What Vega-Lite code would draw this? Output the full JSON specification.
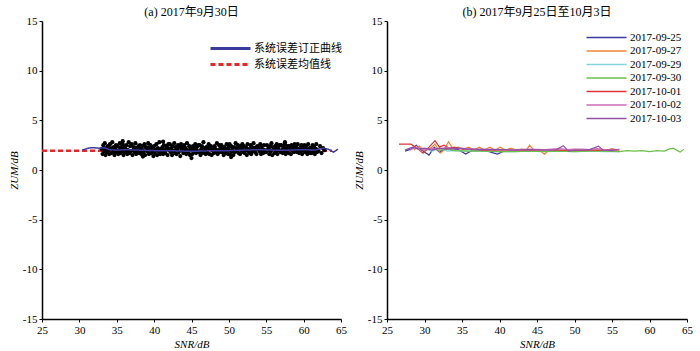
{
  "$schema": "https://vega.github.io/schema/vega-lite/v6.json",
  "padding": {"left": 8, "top": 6, "right": 2, "bottom": 2},
  "spacing": 6,
  "config": {
    "font": "Liberation Serif",
    "view": {"stroke": null},
    "title": {"font": "Liberation Serif, Noto Sans CJK SC", "fontSize": 12, "fontWeight": "normal", "color": "#000", "offset": -4},
    "axis": {
      "grid": false,
      "domainColor": "#000", "domainWidth": 1.5,
      "tickColor": "#000", "tickSize": 3, "tickWidth": 1,
      "labelFont": "Liberation Serif", "labelFontSize": 11, "labelColor": "#000", "labelPadding": 2,
      "labelOverlap": false, "labelFlush": false,
      "labelExpr": "replace(datum.label, '−', '-')",
      "titleFont": "Liberation Serif", "titleFontSize": 11, "titleFontWeight": "normal", "titleColor": "#000", "titlePadding": 3
    },
    "legend": {
      "labelFont": "Liberation Serif, Noto Sans CJK SC", "labelFontSize": 11, "labelColor": "#000", "padding": 0
    }
  },
  "datasets": {
    "scatter": [
      {"s":33.0,"z":2.1},{"s":33.1,"z":1.6},{"s":33.2,"z":2.5},{"s":33.3,"z":1.9},{"s":33.4,"z":2.7},{"s":33.5,"z":1.5},{"s":33.6,"z":2.2},{"s":33.7,"z":1.8},{"s":33.8,"z":2.4},{"s":33.9,"z":2.0},
      {"s":34.0,"z":1.6},{"s":34.1,"z":2.6},{"s":34.2,"z":2.2},{"s":34.3,"z":1.7},{"s":34.4,"z":2.8},{"s":34.5,"z":1.9},{"s":34.6,"z":2.3},{"s":34.7,"z":1.5},{"s":34.8,"z":2.1},{"s":34.9,"z":2.5},
      {"s":35.0,"z":1.8},{"s":35.1,"z":2.4},{"s":35.2,"z":1.6},{"s":35.3,"z":2.0},{"s":35.4,"z":2.7},{"s":35.5,"z":1.7},{"s":35.6,"z":2.2},{"s":35.7,"z":1.9},{"s":35.8,"z":2.6},{"s":35.9,"z":1.5},
      {"s":36.0,"z":2.3},{"s":36.1,"z":1.8},{"s":36.2,"z":2.1},{"s":36.3,"z":2.5},{"s":36.4,"z":1.6},{"s":36.5,"z":2.0},{"s":36.6,"z":2.8},{"s":36.7,"z":1.7},{"s":36.8,"z":2.4},{"s":36.9,"z":1.9},
      {"s":37.0,"z":2.6},{"s":37.1,"z":1.5},{"s":37.2,"z":2.0},{"s":37.3,"z":2.3},{"s":37.4,"z":1.8},{"s":37.5,"z":2.7},{"s":37.6,"z":1.6},{"s":37.7,"z":2.2},{"s":37.8,"z":1.9},{"s":37.9,"z":2.4},
      {"s":38.0,"z":1.7},{"s":38.1,"z":2.5},{"s":38.2,"z":2.1},{"s":38.3,"z":1.6},{"s":38.4,"z":2.4},{"s":38.5,"z":2.0},{"s":38.6,"z":1.8},{"s":38.7,"z":2.6},{"s":38.8,"z":1.5},{"s":38.9,"z":2.3},
      {"s":39.0,"z":2.2},{"s":39.1,"z":1.9},{"s":39.2,"z":2.7},{"s":39.3,"z":1.6},{"s":39.4,"z":2.1},{"s":39.5,"z":2.5},{"s":39.6,"z":1.7},{"s":39.7,"z":2.3},{"s":39.8,"z":2.0},{"s":39.9,"z":1.4},
      {"s":40.0,"z":2.4},{"s":40.1,"z":1.7},{"s":40.2,"z":2.0},{"s":40.3,"z":2.6},{"s":40.4,"z":1.5},{"s":40.5,"z":2.2},{"s":40.6,"z":1.9},{"s":40.7,"z":2.8},{"s":40.8,"z":1.6},{"s":40.9,"z":2.1},
      {"s":41.0,"z":1.9},{"s":41.1,"z":2.3},{"s":41.2,"z":1.6},{"s":41.3,"z":2.5},{"s":41.4,"z":2.0},{"s":41.5,"z":1.7},{"s":41.6,"z":2.4},{"s":41.7,"z":2.1},{"s":41.8,"z":1.5},{"s":41.9,"z":2.6},
      {"s":42.0,"z":2.0},{"s":42.1,"z":2.6},{"s":42.2,"z":1.8},{"s":42.3,"z":2.2},{"s":42.4,"z":1.5},{"s":42.5,"z":2.4},{"s":42.6,"z":1.9},{"s":42.7,"z":2.7},{"s":42.8,"z":1.7},{"s":42.9,"z":2.3},
      {"s":43.0,"z":1.6},{"s":43.1,"z":2.1},{"s":43.2,"z":2.5},{"s":43.3,"z":1.8},{"s":43.4,"z":2.3},{"s":43.5,"z":1.4},{"s":43.6,"z":2.6},{"s":43.7,"z":2.0},{"s":43.8,"z":2.2},{"s":43.9,"z":1.7},
      {"s":44.0,"z":2.5},{"s":44.1,"z":1.9},{"s":44.2,"z":2.2},{"s":44.3,"z":1.6},{"s":44.4,"z":2.7},{"s":44.5,"z":2.0},{"s":44.6,"z":1.8},{"s":44.7,"z":2.4},{"s":44.8,"z":1.5},{"s":44.9,"z":2.1},
      {"s":45.0,"z":2.2},{"s":45.1,"z":1.6},{"s":45.2,"z":2.4},{"s":45.3,"z":2.0},{"s":45.4,"z":1.8},{"s":45.5,"z":2.6},{"s":45.6,"z":1.7},{"s":45.7,"z":2.3},{"s":45.8,"z":1.9},{"s":45.9,"z":2.5},
      {"s":46.0,"z":1.8},{"s":46.1,"z":2.5},{"s":46.2,"z":1.5},{"s":46.3,"z":2.1},{"s":46.4,"z":2.4},{"s":46.5,"z":1.7},{"s":46.6,"z":2.8},{"s":46.7,"z":1.9},{"s":46.8,"z":2.2},{"s":46.9,"z":1.6},
      {"s":47.0,"z":2.3},{"s":47.1,"z":2.0},{"s":47.2,"z":1.7},{"s":47.3,"z":2.6},{"s":47.4,"z":1.6},{"s":47.5,"z":2.2},{"s":47.6,"z":2.4},{"s":47.7,"z":1.5},{"s":47.8,"z":2.1},{"s":47.9,"z":1.9},
      {"s":48.0,"z":1.7},{"s":48.1,"z":2.4},{"s":48.2,"z":2.1},{"s":48.3,"z":1.9},{"s":48.4,"z":2.7},{"s":48.5,"z":1.6},{"s":48.6,"z":2.0},{"s":48.7,"z":2.5},{"s":48.8,"z":1.8},{"s":48.9,"z":2.3},
      {"s":49.0,"z":2.5},{"s":49.1,"z":1.8},{"s":49.2,"z":2.2},{"s":49.3,"z":1.5},{"s":49.4,"z":2.3},{"s":49.5,"z":2.0},{"s":49.6,"z":1.7},{"s":49.7,"z":2.6},{"s":49.8,"z":2.1},{"s":49.9,"z":1.6},
      {"s":50.0,"z":2.0},{"s":50.1,"z":2.6},{"s":50.2,"z":1.6},{"s":50.3,"z":2.4},{"s":50.4,"z":1.9},{"s":50.5,"z":2.2},{"s":50.6,"z":1.5},{"s":50.7,"z":2.3},{"s":50.8,"z":1.8},{"s":50.9,"z":2.7},
      {"s":51.0,"z":1.9},{"s":51.1,"z":2.2},{"s":51.2,"z":2.5},{"s":51.3,"z":1.7},{"s":51.4,"z":2.1},{"s":51.5,"z":1.6},{"s":51.6,"z":2.4},{"s":51.7,"z":2.0},{"s":51.8,"z":2.6},{"s":51.9,"z":1.8},
      {"s":52.0,"z":2.4},{"s":52.1,"z":1.7},{"s":52.2,"z":2.0},{"s":52.3,"z":2.3},{"s":52.4,"z":1.5},{"s":52.5,"z":2.6},{"s":52.6,"z":1.9},{"s":52.7,"z":2.1},{"s":52.8,"z":1.7},{"s":52.9,"z":2.5},
      {"s":53.0,"z":1.6},{"s":53.1,"z":2.3},{"s":53.2,"z":1.9},{"s":53.3,"z":2.7},{"s":53.4,"z":2.0},{"s":53.5,"z":1.8},{"s":53.6,"z":2.2},{"s":53.7,"z":1.6},{"s":53.8,"z":2.4},{"s":53.9,"z":2.1},
      {"s":54.0,"z":2.2},{"s":54.1,"z":1.9},{"s":54.2,"z":2.6},{"s":54.3,"z":1.6},{"s":54.4,"z":2.4},{"s":54.5,"z":2.1},{"s":54.6,"z":1.7},{"s":54.7,"z":2.5},{"s":54.8,"z":2.0},{"s":54.9,"z":1.8},
      {"s":55.0,"z":1.8},{"s":55.1,"z":2.5},{"s":55.2,"z":2.0},{"s":55.3,"z":2.2},{"s":55.4,"z":1.6},{"s":55.5,"z":2.4},{"s":55.6,"z":1.9},{"s":55.7,"z":2.7},{"s":55.8,"z":1.5},{"s":55.9,"z":2.3},
      {"s":56.0,"z":2.1},{"s":56.1,"z":1.7},{"s":56.2,"z":2.4},{"s":56.3,"z":1.9},{"s":56.4,"z":2.6},{"s":56.5,"z":1.6},{"s":56.6,"z":2.3},{"s":56.7,"z":2.0},{"s":56.8,"z":2.5},{"s":56.9,"z":1.8},
      {"s":57.0,"z":2.5},{"s":57.1,"z":2.0},{"s":57.2,"z":1.7},{"s":57.3,"z":2.3},{"s":57.4,"z":1.9},{"s":57.5,"z":2.6},{"s":57.6,"z":1.6},{"s":57.7,"z":2.2},{"s":57.8,"z":1.8},{"s":57.9,"z":2.4},
      {"s":58.0,"z":1.7},{"s":58.1,"z":2.4},{"s":58.2,"z":2.1},{"s":58.3,"z":1.6},{"s":58.4,"z":2.5},{"s":58.5,"z":2.0},{"s":58.6,"z":2.3},{"s":58.7,"z":1.8},{"s":58.8,"z":2.6},{"s":58.9,"z":1.9},
      {"s":59.0,"z":2.3},{"s":59.1,"z":1.8},{"s":59.2,"z":2.6},{"s":59.3,"z":2.0},{"s":59.4,"z":1.7},{"s":59.5,"z":2.2},{"s":59.6,"z":1.9},{"s":59.7,"z":2.5},{"s":59.8,"z":1.6},{"s":59.9,"z":2.1},
      {"s":60.0,"z":2.0},{"s":60.1,"z":2.5},{"s":60.2,"z":1.8},{"s":60.3,"z":2.4},{"s":60.4,"z":2.1},{"s":60.5,"z":1.6},{"s":60.6,"z":2.6},{"s":60.7,"z":1.9},{"s":60.8,"z":2.2},{"s":60.9,"z":1.7},
      {"s":61.0,"z":2.2},{"s":61.1,"z":1.7},{"s":61.2,"z":2.5},{"s":61.3,"z":1.9},{"s":61.4,"z":2.3},{"s":61.5,"z":1.6},{"s":61.6,"z":2.1},{"s":61.7,"z":2.6},{"s":61.8,"z":1.8},{"s":61.9,"z":2.0},
      {"s":62.0,"z":1.9},{"s":62.2,"z":2.4},{"s":62.4,"z":1.7},{"s":62.6,"z":2.2},{"s":62.8,"z":2.0},
      {"s":35.8,"z":2.9},{"s":45.0,"z":1.2},{"s":41.2,"z":2.85},{"s":50.3,"z":1.3},{"s":57.5,"z":2.8},{"s":38.5,"z":1.35},
      {"s":33.45,"z":2.0},{"s":34.65,"z":1.8},{"s":35.55,"z":2.3},{"s":36.45,"z":1.9},{"s":37.35,"z":2.1},{"s":38.25,"z":1.85},{"s":39.15,"z":2.25},{"s":40.05,"z":2.0},
      {"s":40.95,"z":1.75},{"s":41.85,"z":2.2},{"s":42.75,"z":1.95},{"s":43.65,"z":2.3},{"s":44.55,"z":1.8},{"s":45.45,"z":2.1},{"s":46.35,"z":1.9},{"s":47.25,"z":2.25},
      {"s":48.15,"z":1.8},{"s":49.05,"z":2.05},{"s":49.95,"z":2.3},{"s":50.85,"z":1.85},{"s":51.75,"z":2.15},{"s":52.65,"z":1.95},{"s":53.55,"z":2.25},{"s":54.45,"z":1.8},
      {"s":55.35,"z":2.05},{"s":56.25,"z":2.2},{"s":57.15,"z":1.85},{"s":58.05,"z":2.1},{"s":58.95,"z":1.95},{"s":59.85,"z":2.3},{"s":60.75,"z":1.8},{"s":61.65,"z":2.1}
    ],
    "corr": [
      {"series":"系统误差订正曲线","s":30.4,"z":2.0},{"series":"系统误差订正曲线","s":31.2,"z":2.2},{"series":"系统误差订正曲线","s":31.8,"z":2.25},
      {"series":"系统误差订正曲线","s":32.6,"z":2.2},{"series":"系统误差订正曲线","s":33.3,"z":2.25},{"series":"系统误差订正曲线","s":34.0,"z":2.05},
      {"series":"系统误差订正曲线","s":35.0,"z":2.0},{"series":"系统误差订正曲线","s":36.0,"z":2.05},{"series":"系统误差订正曲线","s":38.0,"z":2.0},
      {"series":"系统误差订正曲线","s":40.0,"z":1.95},{"series":"系统误差订正曲线","s":42.0,"z":1.95},{"series":"系统误差订正曲线","s":44.0,"z":1.9},
      {"series":"系统误差订正曲线","s":46.0,"z":1.9},{"series":"系统误差订正曲线","s":48.0,"z":1.95},{"series":"系统误差订正曲线","s":50.0,"z":1.95},
      {"series":"系统误差订正曲线","s":52.0,"z":2.0},{"series":"系统误差订正曲线","s":54.0,"z":2.05},{"series":"系统误差订正曲线","s":56.0,"z":2.0},
      {"series":"系统误差订正曲线","s":58.0,"z":2.0},{"series":"系统误差订正曲线","s":60.0,"z":2.05},{"series":"系统误差订正曲线","s":61.5,"z":2.0},
      {"series":"系统误差订正曲线","s":62.7,"z":2.2},{"series":"系统误差订正曲线","s":63.3,"z":2.1},{"series":"系统误差订正曲线","s":64.0,"z":1.8},
      {"series":"系统误差订正曲线","s":64.6,"z":2.1},
      {"series":"系统误差均值线","s":25,"z":1.95},{"series":"系统误差均值线","s":63.8,"z":1.95}
    ],
    "daily": [
      {"d":"2017-09-25","s":27.4,"z":1.9},{"d":"2017-09-25","s":28.2,"z":2.1},{"d":"2017-09-25","s":28.9,"z":2.5},{"d":"2017-09-25","s":29.6,"z":2.0},
      {"d":"2017-09-25","s":30.6,"z":1.5},{"d":"2017-09-25","s":31.3,"z":2.3},{"d":"2017-09-25","s":32.0,"z":1.8},{"d":"2017-09-25","s":32.8,"z":2.2},
      {"d":"2017-09-25","s":33.6,"z":2.0},{"d":"2017-09-25","s":34.4,"z":2.1},{"d":"2017-09-25","s":35.5,"z":1.6},{"d":"2017-09-25","s":36.4,"z":2.0},
      {"d":"2017-09-25","s":37.4,"z":2.0},{"d":"2017-09-25","s":38.4,"z":1.9},{"d":"2017-09-25","s":39.7,"z":1.6},{"d":"2017-09-25","s":40.6,"z":1.9},

      {"d":"2017-09-27","s":28.6,"z":2.0},{"d":"2017-09-27","s":29.3,"z":2.4},{"d":"2017-09-27","s":30.0,"z":1.9},{"d":"2017-09-27","s":30.8,"z":2.2},
      {"d":"2017-09-27","s":31.4,"z":2.6},{"d":"2017-09-27","s":32.1,"z":1.7},{"d":"2017-09-27","s":32.6,"z":2.0},{"d":"2017-09-27","s":33.2,"z":2.85},
      {"d":"2017-09-27","s":33.8,"z":2.1},{"d":"2017-09-27","s":34.5,"z":2.3},{"d":"2017-09-27","s":35.2,"z":2.1},{"d":"2017-09-27","s":35.9,"z":2.3},
      {"d":"2017-09-27","s":36.6,"z":2.0},{"d":"2017-09-27","s":37.3,"z":2.3},{"d":"2017-09-27","s":38.0,"z":2.0},{"d":"2017-09-27","s":38.7,"z":2.3},
      {"d":"2017-09-27","s":39.4,"z":2.0},{"d":"2017-09-27","s":40.1,"z":2.3},{"d":"2017-09-27","s":40.8,"z":2.0},{"d":"2017-09-27","s":41.5,"z":2.2},
      {"d":"2017-09-27","s":42.3,"z":2.0},{"d":"2017-09-27","s":43.0,"z":2.1},{"d":"2017-09-27","s":43.6,"z":2.0},{"d":"2017-09-27","s":44.0,"z":2.5},
      {"d":"2017-09-27","s":44.6,"z":2.0},{"d":"2017-09-27","s":45.3,"z":2.0},{"d":"2017-09-27","s":46.0,"z":1.6},{"d":"2017-09-27","s":46.6,"z":2.0},
      {"d":"2017-09-27","s":47.5,"z":2.0},{"d":"2017-09-27","s":48.5,"z":1.95},{"d":"2017-09-27","s":50.0,"z":2.0},{"d":"2017-09-27","s":51.5,"z":1.95},
      {"d":"2017-09-27","s":53.0,"z":2.0},{"d":"2017-09-27","s":54.0,"z":1.95},{"d":"2017-09-27","s":55.0,"z":2.1},{"d":"2017-09-27","s":55.9,"z":2.0},

      {"d":"2017-09-29","s":30.0,"z":2.1},{"d":"2017-09-29","s":31.0,"z":1.9},{"d":"2017-09-29","s":32.0,"z":2.2},{"d":"2017-09-29","s":33.0,"z":1.9},
      {"d":"2017-09-29","s":34.0,"z":1.95},{"d":"2017-09-29","s":36.0,"z":1.9},{"d":"2017-09-29","s":38.0,"z":1.9},{"d":"2017-09-29","s":40.0,"z":1.85},
      {"d":"2017-09-29","s":42.0,"z":1.85},{"d":"2017-09-29","s":44.0,"z":1.9},{"d":"2017-09-29","s":46.0,"z":1.85},{"d":"2017-09-29","s":48.0,"z":1.9},
      {"d":"2017-09-29","s":50.0,"z":1.85},{"d":"2017-09-29","s":52.0,"z":1.9},{"d":"2017-09-29","s":54.0,"z":1.85},{"d":"2017-09-29","s":56.0,"z":1.85},

      {"d":"2017-09-30","s":31.0,"z":2.1},{"d":"2017-09-30","s":32.0,"z":2.0},{"d":"2017-09-30","s":33.0,"z":2.1},{"d":"2017-09-30","s":34.0,"z":1.95},
      {"d":"2017-09-30","s":36.0,"z":1.9},{"d":"2017-09-30","s":38.0,"z":1.9},{"d":"2017-09-30","s":40.0,"z":1.85},{"d":"2017-09-30","s":42.0,"z":1.85},
      {"d":"2017-09-30","s":44.0,"z":1.9},{"d":"2017-09-30","s":46.0,"z":1.85},{"d":"2017-09-30","s":48.0,"z":1.9},{"d":"2017-09-30","s":50.0,"z":1.85},
      {"d":"2017-09-30","s":52.0,"z":1.9},{"d":"2017-09-30","s":54.0,"z":1.9},{"d":"2017-09-30","s":56.0,"z":1.85},{"d":"2017-09-30","s":57.0,"z":1.95},
      {"d":"2017-09-30","s":58.0,"z":1.9},{"d":"2017-09-30","s":59.0,"z":1.95},{"d":"2017-09-30","s":60.0,"z":1.85},{"d":"2017-09-30","s":61.0,"z":1.95},
      {"d":"2017-09-30","s":62.0,"z":1.9},{"d":"2017-09-30","s":62.6,"z":2.1},{"d":"2017-09-30","s":63.2,"z":2.2},{"d":"2017-09-30","s":63.6,"z":2.0},
      {"d":"2017-09-30","s":64.1,"z":1.8},{"d":"2017-09-30","s":64.6,"z":2.1},

      {"d":"2017-10-01","s":26.6,"z":2.6},{"d":"2017-10-01","s":28.2,"z":2.6},{"d":"2017-10-01","s":29.0,"z":2.2},{"d":"2017-10-01","s":29.8,"z":1.7},
      {"d":"2017-10-01","s":30.6,"z":2.3},{"d":"2017-10-01","s":31.4,"z":2.95},{"d":"2017-10-01","s":32.0,"z":2.3},{"d":"2017-10-01","s":32.6,"z":2.5},
      {"d":"2017-10-01","s":33.3,"z":2.2},{"d":"2017-10-01","s":34.0,"z":2.3},{"d":"2017-10-01","s":35.0,"z":2.1},{"d":"2017-10-01","s":36.0,"z":2.1},
      {"d":"2017-10-01","s":37.0,"z":2.05},{"d":"2017-10-01","s":38.0,"z":2.0},{"d":"2017-10-01","s":40.0,"z":2.0},{"d":"2017-10-01","s":42.0,"z":2.0},
      {"d":"2017-10-01","s":44.0,"z":2.0},{"d":"2017-10-01","s":46.0,"z":2.05},{"d":"2017-10-01","s":48.0,"z":2.0},{"d":"2017-10-01","s":50.0,"z":2.0},
      {"d":"2017-10-01","s":52.0,"z":2.0},{"d":"2017-10-01","s":54.0,"z":2.0},{"d":"2017-10-01","s":55.0,"z":2.1},{"d":"2017-10-01","s":56.0,"z":2.0},

      {"d":"2017-10-02","s":28.0,"z":2.0},{"d":"2017-10-02","s":29.0,"z":2.3},{"d":"2017-10-02","s":30.0,"z":2.0},{"d":"2017-10-02","s":31.0,"z":2.2},
      {"d":"2017-10-02","s":32.0,"z":2.1},{"d":"2017-10-02","s":33.0,"z":2.3},{"d":"2017-10-02","s":34.0,"z":2.1},{"d":"2017-10-02","s":35.0,"z":2.2},
      {"d":"2017-10-02","s":36.0,"z":2.1},{"d":"2017-10-02","s":38.0,"z":2.1},{"d":"2017-10-02","s":40.0,"z":2.05},{"d":"2017-10-02","s":42.0,"z":2.05},
      {"d":"2017-10-02","s":44.0,"z":2.1},{"d":"2017-10-02","s":46.0,"z":2.05},{"d":"2017-10-02","s":47.0,"z":2.1},{"d":"2017-10-02","s":48.0,"z":2.15},
      {"d":"2017-10-02","s":49.0,"z":2.05},{"d":"2017-10-02","s":50.0,"z":2.1},{"d":"2017-10-02","s":51.0,"z":2.1},{"d":"2017-10-02","s":52.0,"z":2.05},
      {"d":"2017-10-02","s":53.0,"z":2.15},{"d":"2017-10-02","s":54.0,"z":2.05},{"d":"2017-10-02","s":55.0,"z":2.0},{"d":"2017-10-02","s":56.0,"z":2.1},

      {"d":"2017-10-03","s":27.4,"z":2.0},{"d":"2017-10-03","s":28.4,"z":2.3},{"d":"2017-10-03","s":29.2,"z":2.1},{"d":"2017-10-03","s":30.0,"z":2.2},
      {"d":"2017-10-03","s":31.0,"z":2.0},{"d":"2017-10-03","s":32.0,"z":2.2},{"d":"2017-10-03","s":33.0,"z":2.1},{"d":"2017-10-03","s":34.0,"z":2.2},
      {"d":"2017-10-03","s":36.0,"z":2.1},{"d":"2017-10-03","s":38.0,"z":2.05},{"d":"2017-10-03","s":40.0,"z":2.05},{"d":"2017-10-03","s":42.0,"z":2.0},
      {"d":"2017-10-03","s":44.0,"z":2.05},{"d":"2017-10-03","s":46.0,"z":2.0},{"d":"2017-10-03","s":47.5,"z":2.0},{"d":"2017-10-03","s":48.5,"z":2.45},
      {"d":"2017-10-03","s":49.2,"z":1.9},{"d":"2017-10-03","s":50.0,"z":2.0},{"d":"2017-10-03","s":51.0,"z":2.0},{"d":"2017-10-03","s":52.0,"z":2.05},
      {"d":"2017-10-03","s":53.2,"z":2.4},{"d":"2017-10-03","s":53.8,"z":2.0},{"d":"2017-10-03","s":55.0,"z":1.95},{"d":"2017-10-03","s":55.7,"z":2.05}
    ]
  },
  "resolve": {"scale": {"color": "independent", "strokeDash": "independent"}, "legend": {"color": "independent", "strokeDash": "independent"}},
  "hconcat": [
    {
      "width": 299,
      "height": 298,
      "title": {"text": "(a)  2017年9月30日"},
      "layer": [
        {
          "data": {"name": "corr"},
          "transform": [{"filter": "datum.series === '系统误差均值线'"}],
          "mark": {"type": "line", "strokeWidth": 2.5},
          "encoding": {
            "x": {"field": "s", "type": "quantitative", "scale": {"domain": [25, 65], "nice": false, "zero": false}, "axis": {"values": [25,30,35,40,45,50,55,60,65], "labelOverlap": false, "title": "SNR/dB", "titleFontStyle": "italic"}},
            "y": {"field": "z", "type": "quantitative", "scale": {"domain": [-15, 15], "nice": false}, "axis": {"values": [-15,-10,-5,0,5,10,15], "labelOverlap": false, "title": "ZUM/dB", "titleFontStyle": "italic"}},
            "color": {"field": "series", "type": "nominal", "scale": {"domain": ["系统误差订正曲线", "系统误差均值线"], "range": ["#3b3b9e", "#e8262a"]},
              "legend": {"title": null, "orient": "none", "legendX": 183, "legendY": 22, "symbolType": "M-20,0H20", "symbolSize": 4, "symbolStrokeWidth": 3, "labelOffset": 18, "rowPadding": 3}},
            "strokeDash": {"field": "series", "type": "nominal", "scale": {"domain": ["系统误差订正曲线", "系统误差均值线"], "range": [[1, 0], [5, 3]]},
              "legend": {"title": null, "orient": "none", "legendX": 183, "legendY": 22, "symbolType": "M-20,0H20", "symbolSize": 4, "symbolStrokeWidth": 3, "labelOffset": 18, "rowPadding": 3}}
          }
        },
        {
          "data": {"name": "scatter"},
          "mark": {"type": "point", "filled": true, "shape": "circle", "color": "#000", "size": 18, "opacity": 1},
          "encoding": {
            "x": {"field": "s", "type": "quantitative", "axis": {"values": [25,30,35,40,45,50,55,60,65], "labelOverlap": false, "title": "SNR/dB", "titleFontStyle": "italic"}},
            "y": {"field": "z", "type": "quantitative", "axis": {"values": [-15,-10,-5,0,5,10,15], "labelOverlap": false, "title": "ZUM/dB", "titleFontStyle": "italic"}}
          }
        },
        {
          "data": {"name": "corr"},
          "transform": [{"filter": "datum.series === '系统误差订正曲线'"}],
          "mark": {"type": "line", "strokeWidth": 1.5},
          "encoding": {
            "x": {"field": "s", "type": "quantitative", "axis": {"values": [25,30,35,40,45,50,55,60,65], "labelOverlap": false, "title": "SNR/dB", "titleFontStyle": "italic"}},
            "y": {"field": "z", "type": "quantitative", "axis": {"values": [-15,-10,-5,0,5,10,15], "labelOverlap": false, "title": "ZUM/dB", "titleFontStyle": "italic"}},
            "color": {"field": "series", "type": "nominal"},
            "strokeDash": {"field": "series", "type": "nominal"}
          }
        }
      ]
    },
    {
      "width": 300,
      "height": 298,
      "title": {"text": "(b)  2017年9月25日至10月3日"},
      "data": {"name": "daily"},
      "mark": {"type": "line", "strokeWidth": 1.2},
      "encoding": {
        "x": {"field": "s", "type": "quantitative", "scale": {"domain": [25, 65], "nice": false, "zero": false}, "axis": {"values": [25,30,35,40,45,50,55,60,65], "labelOverlap": false, "title": "SNR/dB", "titleFontStyle": "italic"}},
        "y": {"field": "z", "type": "quantitative", "scale": {"domain": [-15, 15], "nice": false}, "axis": {"values": [-15,-10,-5,0,5,10,15], "labelOverlap": false, "title": "ZUM/dB", "titleFontStyle": "italic"}},
        "color": {"field": "d", "type": "nominal",
          "scale": {"domain": ["2017-09-25","2017-09-27","2017-09-29","2017-09-30","2017-10-01","2017-10-02","2017-10-03"], "range": ["#3a3a9c","#ee8433","#84d3dc","#6cbf4a","#d93636","#cc6ab8","#9350a8"]},
          "legend": {"title": null, "orient": "none", "legendX": 214, "legendY": 11, "symbolType": "M-20,0H20", "symbolSize": 4, "symbolStrokeWidth": 1.5, "labelOffset": 18, "rowPadding": 1.5}}
      }
    }
  ]
}
